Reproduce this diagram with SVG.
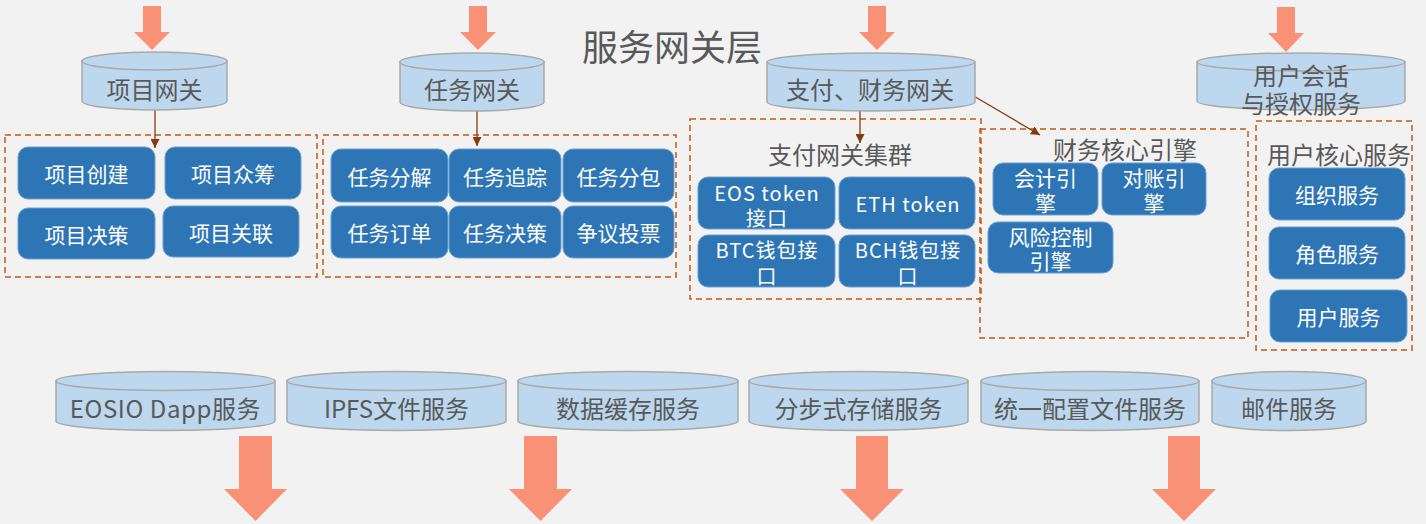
<svg xmlns="http://www.w3.org/2000/svg" width="1426" height="524" viewBox="0 0 1426 524">
<defs>
<style>
.bg{fill:#f2f2f2}
.cyl{fill:#bdd7ee;stroke:#a9a9a9;stroke-width:1.5}
.ct{font-family:"Noto Sans CJK SC","Noto Sans",sans-serif;font-size:24px;fill:#595959;text-anchor:middle;dominant-baseline:central}
.title{font-family:"Noto Sans CJK SC","Noto Sans",sans-serif;font-size:36px;fill:#595959;text-anchor:middle;dominant-baseline:central}
.st{font-family:"Noto Sans CJK SC","Noto Sans",sans-serif;font-size:24px;fill:#595959;text-anchor:middle;dominant-baseline:central}
.box{fill:#2e75b6;stroke:#6d9fd1;stroke-width:1}
.bt{font-family:"Noto Sans CJK SC","Noto Sans",sans-serif;font-size:21px;fill:#ffffff;text-anchor:middle;dominant-baseline:central}
.pt{font-family:"Noto Sans CJK SC","Noto Sans",sans-serif;font-size:20px;fill:#ffffff;text-anchor:middle;dominant-baseline:central;letter-spacing:1px}
.dash{fill:none;stroke:#c55a11;stroke-width:1.5;stroke-dasharray:6 4}
.big{fill:#f99177}
.conn{fill:none;stroke:#843c0c;stroke-width:1.3}
</style>
<marker id="ah" viewBox="0 0 10 10" refX="10" refY="5" markerWidth="9" markerHeight="9" markerUnits="userSpaceOnUse" orient="auto">
<path d="M0,0 L10,5 L0,10 z" fill="#843c0c"/>
</marker>
</defs>
<rect class="bg" x="0" y="0" width="1426" height="524"/>

<text class="title" x="672" y="45">服务网关层</text>

<g id="input-arrows">
<path class="big" d="M143,6 H161 V32 H170 L152,50 L134,32 H143 Z"/>
<path class="big" d="M469,6 H487 V32 H496 L478,50 L460,32 H469 Z"/>
<path class="big" d="M868,6 H886 V32 H895 L877,50 L859,32 H868 Z"/>
<path class="big" d="M1277,7 H1295 V33 H1304 L1286,52 L1268,33 H1277 Z"/>
</g>

<g id="dashed-groups">
<rect class="dash" x="5" y="135" width="312" height="142"/>
<rect class="dash" x="323" y="135" width="353" height="142"/>
<rect class="dash" x="690" y="119" width="291" height="180"/>
<rect class="dash" x="980" y="129" width="268" height="209"/>
<rect class="dash" x="1256" y="121" width="156" height="229"/>
</g>

<g id="connectors">
<line class="conn" x1="155" y1="110" x2="155" y2="148" marker-end="url(#ah)"/>
<line class="conn" x1="477" y1="106" x2="477" y2="146" marker-end="url(#ah)"/>
<line class="conn" x1="860" y1="103" x2="860" y2="143" marker-end="url(#ah)"/>
<line class="conn" x1="972" y1="95" x2="1040" y2="135" marker-end="url(#ah)"/>
</g>

<g id="gw-project">
<path class="cyl" d="M82,61 V101 A72.5,9 0 0 0 227,101 V61 Z"/>
<ellipse class="cyl" cx="154.5" cy="61" rx="72.5" ry="9"/>
<text class="ct" x="154.5" y="88">项目网关</text>
</g>
<g id="gw-task">
<path class="cyl" d="M400,62 V102 A72,9 0 0 0 544,102 V62 Z"/>
<ellipse class="cyl" cx="472" cy="62" rx="72" ry="9"/>
<text class="ct" x="472" y="88">任务网关</text>
</g>
<g id="gw-pay">
<path class="cyl" d="M767,62 V102 A104,9 0 0 0 975,102 V62 Z"/>
<ellipse class="cyl" cx="871" cy="62" rx="104" ry="9"/>
<text class="ct" x="870" y="88">支付、财务网关</text>
</g>
<g id="gw-user">
<path class="cyl" d="M1197,62 V101 A104,9 0 0 0 1405,101 V62 Z"/>
<ellipse class="cyl" cx="1301" cy="62" rx="104" ry="9"/>
<text class="ct" x="1301" y="74">用户会话</text>
<text class="ct" x="1301" y="102">与授权服务</text>
</g>

<g id="project-services">
<g id="n-xmcj"><rect class="box" x="18" y="147" width="137" height="52" rx="10"/><text class="bt" x="86.5" y="173">项目创建</text></g>
<g id="n-xmzc"><rect class="box" x="165" y="147" width="136" height="52" rx="10"/><text class="bt" x="233" y="173">项目众筹</text></g>
<g id="n-xmjc"><rect class="box" x="18" y="208" width="137" height="51" rx="10"/><text class="bt" x="86.5" y="233.5">项目决策</text></g>
<g id="n-xmgl"><rect class="box" x="163" y="206" width="136" height="51" rx="10"/><text class="bt" x="231" y="231.5">项目关联</text></g>
</g>

<g id="task-services">
<g id="n-rwfj"><rect class="box" x="331" y="149" width="117" height="53" rx="10"/><text class="bt" x="389.5" y="175.5">任务分解</text></g>
<g id="n-rwzz"><rect class="box" x="449" y="149" width="112" height="53" rx="10"/><text class="bt" x="505" y="175.5">任务追踪</text></g>
<g id="n-rwfb"><rect class="box" x="563" y="149" width="111" height="53" rx="10"/><text class="bt" x="618.5" y="175.5">任务分包</text></g>
<g id="n-rwdd"><rect class="box" x="331" y="206" width="117" height="52" rx="10"/><text class="bt" x="389.5" y="232">任务订单</text></g>
<g id="n-rwjc"><rect class="box" x="449" y="206" width="112" height="52" rx="10"/><text class="bt" x="505" y="232">任务决策</text></g>
<g id="n-zytp"><rect class="box" x="563" y="206" width="111" height="52" rx="10"/><text class="bt" x="618.5" y="232">争议投票</text></g>
</g>

<g id="pay-cluster">
<text class="st" x="840" y="153">支付网关集群</text>
<g id="n-eos"><rect class="box" x="698" y="177" width="137" height="52" rx="10"/><text class="pt" x="767" y="192">EOS token</text><text class="pt" x="767" y="217">接口</text></g>
<g id="n-eth"><rect class="box" x="839" y="177" width="136" height="52" rx="10"/><text class="pt" x="908" y="203">ETH token</text></g>
<g id="n-btc"><rect class="box" x="698" y="235" width="137" height="52" rx="10"/><text class="pt" x="767" y="249">BTC钱包接</text><text class="pt" x="767" y="275">口</text></g>
<g id="n-bch"><rect class="box" x="839" y="235" width="136" height="52" rx="10"/><text class="pt" x="908" y="249">BCH钱包接</text><text class="pt" x="908" y="275">口</text></g>
</g>

<g id="finance-core">
<text class="st" x="1125" y="148">财务核心引擎</text>
<g id="n-kj"><rect class="box" x="993" y="163" width="105" height="52" rx="10"/><text class="bt" x="1045.5" y="177">会计引</text><text class="bt" x="1045.5" y="202">擎</text></g>
<g id="n-dz"><rect class="box" x="1102" y="163" width="104" height="52" rx="10"/><text class="bt" x="1154" y="177">对账引</text><text class="bt" x="1154" y="202">擎</text></g>
<g id="n-fx"><rect class="box" x="988" y="222" width="125" height="51" rx="10"/><text class="bt" x="1050.5" y="236">风险控制</text><text class="bt" x="1050.5" y="260">引擎</text></g>
</g>

<g id="user-core">
<text class="st" x="1339" y="153">用户核心服务</text>
<g id="n-zz"><rect class="box" x="1269" y="168" width="136" height="52" rx="10"/><text class="bt" x="1337" y="194">组织服务</text></g>
<g id="n-js"><rect class="box" x="1269" y="227" width="136" height="52" rx="10"/><text class="bt" x="1337" y="253">角色服务</text></g>
<g id="n-yh"><rect class="box" x="1270" y="290" width="137" height="52" rx="10"/><text class="bt" x="1338.5" y="316">用户服务</text></g>
</g>

<g id="base-services">
<g id="s-eosio"><path class="cyl" d="M56,381 V421 A109.5,9.5 0 0 0 275,421 V381 Z"/><ellipse class="cyl" cx="165.5" cy="381" rx="109.5" ry="9.5"/><text class="ct" x="165.5" y="407" style="letter-spacing:0.6px">EOSIO Dapp服务</text></g>
<g id="s-ipfs"><path class="cyl" d="M287,381 V421 A109.5,9.5 0 0 0 506,421 V381 Z"/><ellipse class="cyl" cx="396.5" cy="381" rx="109.5" ry="9.5"/><text class="ct" x="396.5" y="407">IPFS文件服务</text></g>
<g id="s-cache"><path class="cyl" d="M518,381 V421 A110,9.5 0 0 0 738,421 V381 Z"/><ellipse class="cyl" cx="628" cy="381" rx="110" ry="9.5"/><text class="ct" x="628" y="407">数据缓存服务</text></g>
<g id="s-store"><path class="cyl" d="M749,381 V421 A109.5,9.5 0 0 0 968,421 V381 Z"/><ellipse class="cyl" cx="858.5" cy="381" rx="109.5" ry="9.5"/><text class="ct" x="858.5" y="407">分步式存储服务</text></g>
<g id="s-config"><path class="cyl" d="M981,381 V421 A109,9.5 0 0 0 1199,421 V381 Z"/><ellipse class="cyl" cx="1090" cy="381" rx="109" ry="9.5"/><text class="ct" x="1090" y="407">统一配置文件服务</text></g>
<g id="s-mail"><path class="cyl" d="M1212,381 V421 A77,9.5 0 0 0 1366,421 V381 Z"/><ellipse class="cyl" cx="1289" cy="381" rx="77" ry="9.5"/><text class="ct" x="1289" y="407">邮件服务</text></g>
</g>

<g id="output-arrows">
<path class="big" d="M239,436 H272 V489 H287 L255.5,521 L224,489 H239 Z"/>
<path class="big" d="M524,436 H557 V489 H572 L540.5,521 L509,489 H524 Z"/>
<path class="big" d="M856,436 H888 V489 H904 L872,521 L840,489 H856 Z"/>
<path class="big" d="M1168,436 H1200 V489 H1216 L1184,521 L1152,489 H1168 Z"/>
</g>
</svg>
